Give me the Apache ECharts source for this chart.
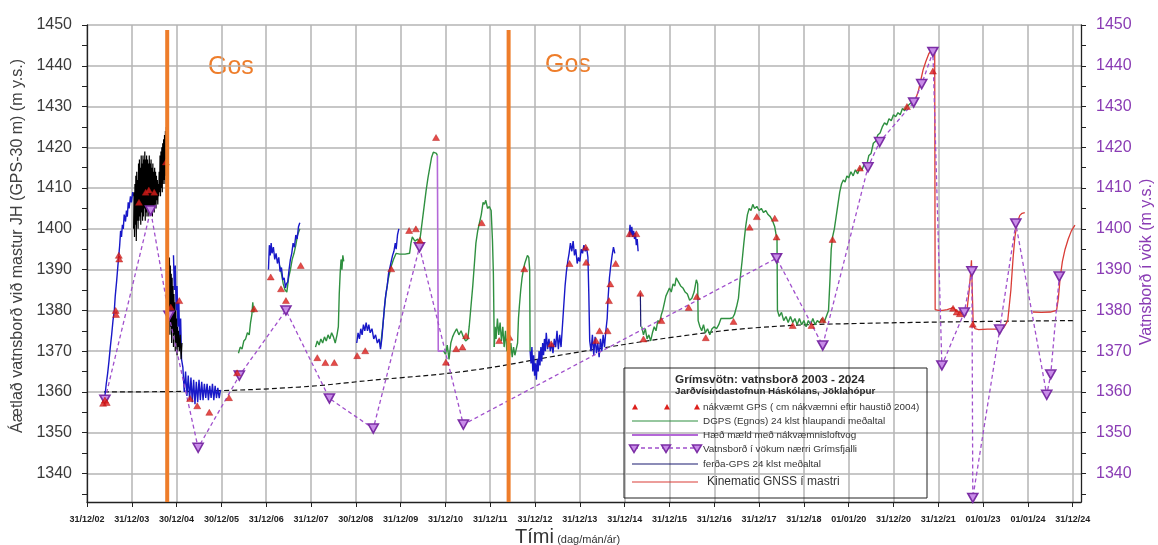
<!DOCTYPE html>
<html>
<head>
<meta charset="utf-8">
<script src="https://cdn.jsdelivr.net/npm/echarts@6/dist/echarts.min.js"></script>
<style>
  html, body { margin: 0; padding: 0; background: #ffffff; }
  #chart { width: 1158px; height: 545px; }
</style>
</head>
<body>
<div id="chart"></div>
<script>
// Grímsvötn lake level 2003-2024. X values are decimal years, Y values metres a.s.l.

const yearTickPositions = [2003, 2004, 2005, 2006, 2007, 2008, 2009, 2010, 2011, 2012, 2013, 2014,
  2015, 2016, 2017, 2018, 2019, 2020, 2021, 2022, 2023, 2024, 2025];
const yearTickLabels = ['31/12/02', '31/12/03', '30/12/04', '30/12/05', '31/12/06', '31/12/07', '30/12/08',
  '31/12/09', '31/12/10', '31/12/11', '31/12/12', '31/12/13', '31/12/14', '31/12/15', '31/12/16',
  '31/12/17', '31/12/18', '01/01/20', '31/12/20', '31/12/21', '01/01/23', '01/01/24', '31/12/24'];
const levelTicksMajor = [1340, 1350, 1360, 1370, 1380, 1390, 1400, 1410, 1420, 1430, 1440, 1450];
const levelTicksMinor = [1335, 1345, 1355, 1365, 1375, 1385, 1395, 1405, 1415, 1425, 1435, 1445];

// Eruptions ("Gos")
const eruptionYears = [2004.79, 2012.41];

// Precise GPS (cm accuracy after autumn 2004)
const preciseGps = [
  [2003.36, 1357.2], [2003.40, 1358.0], [2003.44, 1357.4], [2003.64, 1380.0], [2003.65, 1379.0],
  [2003.71, 1393.5], [2003.72, 1392.6], [2004.16, 1406.5], [2004.31, 1409.0], [2004.38, 1409.5],
  [2004.50, 1409.0], [2004.76, 1416.4], [2004.87, 1380.8], [2005.06, 1382.4],
  [2005.30, 1358.4], [2005.46, 1356.6], [2005.73, 1355.0], [2006.17, 1358.6], [2006.35, 1364.7],
  [2006.73, 1380.4], [2007.10, 1388.2], [2007.33, 1385.3], [2007.44, 1382.4], [2007.77, 1391.0],
  [2008.14, 1368.4], [2008.32, 1367.2], [2008.52, 1367.2], [2009.03, 1368.9], [2009.21, 1370.1],
  [2009.79, 1390.2], [2010.19, 1399.6], [2010.34, 1400.0], [2010.43, 1397.2], [2010.79, 1422.4],
  [2011.01, 1367.3], [2011.24, 1370.6], [2011.38, 1371.0], [2011.46, 1373.8], [2011.81, 1401.5],
  [2012.20, 1372.6], [2012.43, 1373.4], [2012.76, 1390.2], [2013.36, 1371.8], [2013.77, 1391.5],
  [2014.13, 1395.5], [2014.14, 1391.8], [2014.36, 1372.6], [2014.44, 1375.0], [2014.62, 1375.0],
  [2014.65, 1382.4], [2014.68, 1386.5], [2014.80, 1391.5], [2015.11, 1398.8], [2015.26, 1398.8],
  [2015.35, 1384.2], [2015.42, 1373.0], [2015.82, 1377.5], [2016.43, 1380.7], [2016.61, 1383.4],
  [2016.81, 1373.3], [2017.43, 1377.3], [2017.79, 1400.4], [2017.95, 1403.0], [2018.35, 1402.6],
  [2018.39, 1398.0], [2018.75, 1376.3], [2019.17, 1376.3], [2019.42, 1377.7], [2019.64, 1397.4],
  [2020.25, 1414.9], [2021.30, 1430.0], [2021.88, 1438.7], [2022.33, 1380.5], [2022.41, 1379.6],
  [2022.48, 1379.2], [2022.77, 1376.6]
];

// DGPS (Egnos) 24 h running mean, one array per logging period
const dgps2006 = [
  [2006.38, 1369.5], [2006.42, 1371.0], [2006.46, 1370.5], [2006.50, 1372.5], [2006.54, 1373.0],
  [2006.58, 1374.5], [2006.62, 1374.0], [2006.65, 1377.0], [2006.68, 1379.0], [2006.70, 1382.0],
  [2006.72, 1379.5], [2006.74, 1380.5]
];
const dgps2007 = [
  [2007.30, 1391.0], [2007.34, 1389.0], [2007.38, 1386.5], [2007.42, 1385.0], [2007.46, 1384.5],
  [2007.50, 1388.0], [2007.54, 1390.0], [2007.58, 1392.5], [2007.62, 1394.0], [2007.66, 1396.0],
  [2007.70, 1398.5], [2007.75, 1400.0]
];
const dgps2008 = [
  [2008.10, 1371.0], [2008.14, 1372.5], [2008.18, 1371.5], [2008.22, 1373.0], [2008.26, 1372.0],
  [2008.30, 1373.5], [2008.34, 1372.5], [2008.38, 1374.0], [2008.42, 1373.0], [2008.46, 1374.5],
  [2008.50, 1373.5], [2008.54, 1372.0], [2008.58, 1374.0], [2008.61, 1376.0], [2008.63, 1384.0],
  [2008.65, 1389.0], [2008.67, 1392.5], [2008.69, 1390.0], [2008.71, 1393.5], [2008.73, 1392.0]
];
const dgps2009 = [
  [2009.55, 1371.0], [2009.60, 1376.0], [2009.66, 1383.0], [2009.72, 1387.5], [2009.78, 1390.5],
  [2009.84, 1392.5], [2009.90, 1394.0], [2009.98, 1393.8], [2010.10, 1393.8], [2010.20, 1394.0],
  [2010.23, 1396.5], [2010.26, 1398.0], [2010.32, 1397.0], [2010.38, 1397.5], [2010.42, 1396.5],
  [2010.45, 1399.0], [2010.49, 1402.5], [2010.53, 1406.0], [2010.57, 1409.5], [2010.61, 1412.5],
  [2010.65, 1415.0], [2010.69, 1417.5], [2010.73, 1418.8], [2010.77, 1419.2], [2010.80, 1418.5],
  [2010.82, 1418.0]
];
const dgps2011 = [
  [2010.96, 1370.0], [2011.00, 1369.3], [2011.04, 1371.5], [2011.08, 1368.0], [2011.12, 1372.0],
  [2011.16, 1373.5], [2011.20, 1374.5], [2011.25, 1375.5], [2011.30, 1374.0], [2011.35, 1375.0],
  [2011.40, 1373.5], [2011.45, 1372.5], [2011.50, 1373.0], [2011.53, 1376.0], [2011.57, 1381.0],
  [2011.61, 1386.0], [2011.65, 1392.0], [2011.68, 1396.5], [2011.72, 1399.5], [2011.76, 1401.5],
  [2011.80, 1403.5], [2011.84, 1406.5], [2011.87, 1406.0], [2011.90, 1407.0], [2011.94, 1405.0],
  [2011.98, 1405.5], [2012.02, 1404.5], [2012.05, 1397.0], [2012.07, 1389.0], [2012.09, 1371.0]
];
const dgps2012 = [
  [2012.09, 1371.0], [2012.11, 1376.0], [2012.13, 1373.0], [2012.16, 1378.0], [2012.19, 1374.0],
  [2012.22, 1377.0], [2012.25, 1372.5], [2012.28, 1376.0], [2012.31, 1371.0], [2012.34, 1375.0],
  [2012.37, 1370.0], [2012.40, 1374.0], [2012.43, 1369.0], [2012.46, 1372.0], [2012.49, 1368.5],
  [2012.52, 1371.0], [2012.55, 1369.0], [2012.58, 1370.5], [2012.61, 1372.0], [2012.63, 1378.0],
  [2012.65, 1381.0], [2012.68, 1385.0], [2012.71, 1388.0], [2012.74, 1390.0], [2012.77, 1391.5],
  [2012.80, 1392.5], [2012.83, 1393.5], [2012.86, 1393.0], [2012.88, 1390.0], [2012.89, 1370.0]
];
const dgps2015 = [
  [2015.38, 1376.0], [2015.42, 1374.0], [2015.46, 1375.5], [2015.50, 1373.0], [2015.54, 1374.0],
  [2015.58, 1372.5], [2015.62, 1374.5], [2015.66, 1376.0], [2015.70, 1375.0], [2015.74, 1377.5],
  [2015.78, 1377.0], [2015.82, 1379.0], [2015.85, 1380.0], [2015.92, 1383.5], [2016.00, 1385.5],
  [2016.04, 1384.5], [2016.08, 1386.5], [2016.12, 1386.0], [2016.15, 1388.0], [2016.20, 1387.0],
  [2016.25, 1386.0], [2016.30, 1385.5], [2016.35, 1384.5], [2016.40, 1384.0], [2016.45, 1382.5],
  [2016.50, 1383.0], [2016.55, 1384.5], [2016.60, 1387.5], [2016.63, 1386.5], [2016.64, 1377.5],
  [2016.68, 1376.0], [2016.72, 1375.0], [2016.76, 1376.5], [2016.80, 1374.5], [2016.85, 1375.5],
  [2016.90, 1374.0], [2016.95, 1375.5], [2017.00, 1376.0], [2017.05, 1375.5], [2017.10, 1376.5],
  [2017.15, 1378.0], [2017.25, 1378.0], [2017.35, 1378.0], [2017.41, 1378.2], [2017.45, 1379.0],
  [2017.50, 1381.0], [2017.54, 1383.0], [2017.58, 1388.0], [2017.62, 1392.0], [2017.66, 1396.5],
  [2017.70, 1400.5], [2017.74, 1403.5], [2017.78, 1405.0], [2017.82, 1404.5], [2017.86, 1406.0],
  [2017.90, 1405.0], [2017.95, 1405.5], [2018.00, 1404.5], [2018.05, 1405.0], [2018.10, 1404.0],
  [2018.15, 1404.5], [2018.20, 1403.5], [2018.25, 1403.0], [2018.30, 1402.0], [2018.35, 1400.5],
  [2018.38, 1398.5], [2018.40, 1398.0], [2018.41, 1380.0], [2018.45, 1378.5], [2018.50, 1379.5],
  [2018.55, 1377.5], [2018.60, 1378.5], [2018.65, 1377.0], [2018.70, 1378.5], [2018.75, 1377.0],
  [2018.80, 1378.0], [2018.85, 1376.5], [2018.90, 1378.0], [2018.95, 1376.5], [2019.00, 1377.5],
  [2019.05, 1376.0], [2019.10, 1377.5], [2019.15, 1376.5], [2019.20, 1378.0], [2019.25, 1376.5],
  [2019.30, 1377.5], [2019.35, 1377.0], [2019.40, 1378.0], [2019.45, 1377.0], [2019.50, 1378.5],
  [2019.55, 1380.0], [2019.58, 1387.0], [2019.61, 1395.0], [2019.64, 1398.0], [2019.68, 1400.0],
  [2019.72, 1403.0], [2019.76, 1406.0], [2019.80, 1409.0], [2019.84, 1411.0], [2019.88, 1412.0],
  [2019.92, 1411.5], [2019.96, 1413.0], [2020.00, 1412.5], [2020.05, 1414.0], [2020.10, 1413.0],
  [2020.15, 1414.5], [2020.20, 1413.5], [2020.25, 1415.0], [2020.30, 1414.5], [2020.35, 1416.0],
  [2020.40, 1415.5], [2020.45, 1418.0], [2020.50, 1418.5], [2020.55, 1421.0], [2020.60, 1421.5],
  [2020.65, 1423.0], [2020.70, 1423.5], [2020.75, 1425.0], [2020.80, 1426.0], [2020.85, 1425.5],
  [2020.90, 1427.0], [2020.95, 1426.5], [2021.00, 1428.0], [2021.05, 1427.5], [2021.10, 1428.5],
  [2021.15, 1428.0], [2021.20, 1429.5], [2021.25, 1429.0], [2021.30, 1430.0], [2021.35, 1430.5],
  [2021.40, 1431.0], [2021.45, 1431.5], [2021.50, 1432.0]
];

// Barometric altimeter level
const baroLevel = [[2010.82, 1418.0], [2010.84, 1370.0], [2010.96, 1370.0]];

// Travel GPS, 24 h mean
const travelGps2003 = [
  [2003.36, 1357.5], [2003.40, 1359.0], [2003.43, 1362.0], [2003.46, 1364.5], [2003.49, 1367.5],
  [2003.52, 1371.0], [2003.55, 1374.0], [2003.58, 1377.5], [2003.61, 1380.0], [2003.63, 1383.5],
  [2003.66, 1387.0], [2003.69, 1391.0], [2003.71, 1393.5], [2003.73, 1396.0], [2003.75, 1399.5],
  [2003.77, 1398.0], [2003.79, 1401.0], [2003.81, 1400.0], [2003.83, 1403.5], [2003.86, 1401.8],
  [2003.88, 1404.5], [2003.90, 1403.0], [2003.92, 1406.5], [2003.94, 1405.0], [2003.97, 1408.0],
  [2003.99, 1406.5], [2004.02, 1409.0], [2004.05, 1408.0]
];
const travelGps2005 = [
  [2004.93, 1393.5], [2004.95, 1385.0], [2004.97, 1391.0], [2004.99, 1380.0], [2005.01, 1386.0],
  [2005.03, 1376.0], [2005.05, 1382.0], [2005.07, 1372.0], [2005.09, 1378.0], [2005.11, 1368.0],
  [2005.14, 1366.0], [2005.17, 1360.0], [2005.20, 1365.0], [2005.23, 1359.0], [2005.26, 1364.0],
  [2005.29, 1358.0], [2005.32, 1363.5], [2005.35, 1357.5], [2005.38, 1363.0], [2005.41, 1357.0],
  [2005.44, 1362.5], [2005.47, 1357.5], [2005.50, 1363.0], [2005.53, 1358.0], [2005.56, 1362.5],
  [2005.59, 1358.0], [2005.62, 1362.0], [2005.65, 1358.5], [2005.68, 1362.0], [2005.71, 1358.0],
  [2005.74, 1361.5], [2005.77, 1358.5], [2005.80, 1362.0], [2005.83, 1358.0], [2005.86, 1361.5],
  [2005.89, 1358.5], [2005.92, 1361.0], [2005.95, 1358.5], [2005.98, 1360.5]
];
const travelGps2007 = [
  [2007.05, 1390.0], [2007.07, 1396.0], [2007.09, 1393.5], [2007.11, 1396.5], [2007.13, 1394.0],
  [2007.16, 1395.5], [2007.19, 1392.5], [2007.22, 1394.0], [2007.25, 1391.5], [2007.28, 1393.0],
  [2007.31, 1389.5], [2007.34, 1390.5], [2007.37, 1387.5], [2007.40, 1388.0], [2007.43, 1385.5],
  [2007.45, 1386.5], [2007.48, 1387.0], [2007.51, 1390.0], [2007.54, 1392.5], [2007.57, 1394.0],
  [2007.60, 1396.5], [2007.63, 1395.5], [2007.66, 1398.5], [2007.69, 1397.5], [2007.72, 1400.5],
  [2007.75, 1401.5]
];
const travelGps2009 = [
  [2009.02, 1372.0], [2009.05, 1374.5], [2009.08, 1373.0], [2009.11, 1375.5], [2009.14, 1374.0],
  [2009.17, 1376.5], [2009.20, 1375.0], [2009.23, 1377.0], [2009.26, 1375.0], [2009.29, 1376.5],
  [2009.32, 1374.5], [2009.36, 1375.5], [2009.40, 1373.0], [2009.44, 1374.0], [2009.48, 1372.0],
  [2009.52, 1373.0], [2009.55, 1370.5], [2009.58, 1373.0], [2009.61, 1377.0], [2009.64, 1381.0],
  [2009.67, 1384.0], [2009.70, 1386.0], [2009.73, 1389.0], [2009.76, 1390.5], [2009.79, 1392.0],
  [2009.82, 1393.5], [2009.85, 1394.5], [2009.88, 1396.5], [2009.90, 1395.0], [2009.93, 1398.5],
  [2009.96, 1400.0]
];
const travelGps2013 = [
  [2012.89, 1370.0], [2012.91, 1367.0], [2012.93, 1371.0], [2012.95, 1365.0], [2012.97, 1369.0],
  [2012.99, 1364.0], [2013.01, 1367.0], [2013.03, 1363.0], [2013.05, 1368.0], [2013.07, 1365.0],
  [2013.09, 1370.0], [2013.11, 1366.5], [2013.13, 1371.0], [2013.15, 1367.5], [2013.17, 1372.0],
  [2013.19, 1369.0], [2013.21, 1373.0], [2013.23, 1370.0], [2013.25, 1374.5], [2013.28, 1370.5],
  [2013.31, 1373.0], [2013.34, 1370.0], [2013.37, 1372.0], [2013.40, 1369.5], [2013.43, 1373.0],
  [2013.46, 1371.0], [2013.49, 1375.0], [2013.52, 1370.5], [2013.55, 1374.0], [2013.58, 1371.0],
  [2013.61, 1376.0], [2013.64, 1381.0], [2013.67, 1386.0], [2013.70, 1389.5], [2013.73, 1392.0],
  [2013.76, 1394.0], [2013.79, 1396.5], [2013.82, 1394.5], [2013.85, 1397.0], [2013.88, 1393.5],
  [2013.91, 1395.0], [2013.94, 1391.5], [2013.97, 1393.0], [2014.00, 1392.0], [2014.03, 1395.0],
  [2014.06, 1394.0], [2014.09, 1396.0], [2014.12, 1394.5], [2014.15, 1395.5], [2014.18, 1393.0],
  [2014.20, 1384.0], [2014.22, 1372.5], [2014.25, 1370.0], [2014.28, 1374.0], [2014.31, 1369.0],
  [2014.34, 1373.5], [2014.37, 1369.5], [2014.40, 1372.0], [2014.43, 1368.5], [2014.46, 1373.0],
  [2014.49, 1370.0], [2014.52, 1374.0], [2014.55, 1371.0], [2014.58, 1375.0], [2014.61, 1378.0],
  [2014.63, 1383.0], [2014.66, 1388.0], [2014.69, 1391.0], [2014.72, 1393.5], [2014.75, 1395.5],
  [2014.78, 1394.0]
];
const travelGps2015 = [
  [2015.10, 1398.0], [2015.12, 1401.0], [2015.14, 1398.5], [2015.16, 1400.5], [2015.18, 1398.0],
  [2015.20, 1399.5], [2015.22, 1397.5], [2015.24, 1399.0], [2015.26, 1396.0], [2015.28, 1397.5],
  [2015.30, 1394.5]
];
const travelGps2015b = [[2015.35, 1384.2], [2015.36, 1376.0]];

// Raw GPS readings around the 2004 eruption
const rawGpsBefore = [
  [2004.04, 1400], [2004.05, 1409], [2004.06, 1398], [2004.07, 1411], [2004.08, 1401], [2004.09, 1413],
  [2004.10, 1397], [2004.11, 1414], [2004.12, 1402], [2004.13, 1412], [2004.14, 1400], [2004.15, 1416],
  [2004.16, 1402], [2004.17, 1417], [2004.18, 1403], [2004.19, 1415], [2004.20, 1401], [2004.21, 1418],
  [2004.22, 1404], [2004.23, 1416], [2004.24, 1402], [2004.25, 1418], [2004.26, 1403], [2004.27, 1417],
  [2004.28, 1405], [2004.29, 1419], [2004.30, 1402], [2004.31, 1417], [2004.32, 1404], [2004.33, 1418],
  [2004.34, 1403], [2004.35, 1417], [2004.36, 1405], [2004.37, 1416], [2004.38, 1403], [2004.39, 1418],
  [2004.40, 1404], [2004.41, 1416], [2004.42, 1405], [2004.43, 1417], [2004.44, 1404], [2004.45, 1415],
  [2004.46, 1403], [2004.47, 1416], [2004.48, 1405], [2004.49, 1414], [2004.50, 1404], [2004.51, 1415],
  [2004.52, 1406], [2004.53, 1414], [2004.54, 1405], [2004.55, 1413], [2004.56, 1407], [2004.57, 1412],
  [2004.58, 1406], [2004.59, 1411], [2004.60, 1408], [2004.61, 1414], [2004.62, 1409], [2004.63, 1418],
  [2004.64, 1408], [2004.65, 1419], [2004.66, 1410], [2004.67, 1420], [2004.68, 1409], [2004.69, 1421],
  [2004.70, 1411], [2004.71, 1422], [2004.72, 1412], [2004.73, 1423], [2004.74, 1411], [2004.75, 1424],
  [2004.76, 1413], [2004.77, 1425], [2004.78, 1414], [2004.79, 1426], [2004.80, 1416]
];
const rawGpsAfter = [
  [2004.83, 1380], [2004.84, 1393], [2004.85, 1374], [2004.86, 1391], [2004.87, 1376], [2004.88, 1389],
  [2004.89, 1372], [2004.90, 1388], [2004.91, 1375], [2004.92, 1386], [2004.93, 1371], [2004.94, 1384],
  [2004.95, 1374], [2004.96, 1382], [2004.97, 1370], [2004.98, 1380], [2004.99, 1372], [2005.00, 1378],
  [2005.01, 1369], [2005.02, 1376], [2005.03, 1371], [2005.04, 1375], [2005.06, 1370], [2005.08, 1374],
  [2005.10, 1368], [2005.12, 1372]
];

// Water level in openings near Grímsfjall
const openingLevels = [
  [2003.40, 1358.1], [2004.42, 1404.5], [2004.83, 1378.7], [2005.48, 1346.3], [2006.40, 1364.0],
  [2007.44, 1380.0], [2008.41, 1358.4], [2009.39, 1351.0], [2010.42, 1395.5], [2011.40, 1352.0],
  [2018.39, 1392.8], [2019.42, 1371.4], [2020.43, 1415.1], [2020.69, 1421.3], [2021.45, 1431.0],
  [2021.63, 1435.5], [2021.88, 1443.4], [2022.08, 1366.5], [2022.58, 1379.5], [2022.75, 1389.6],
  [2022.77, 1334.0], [2023.37, 1375.3], [2023.73, 1401.3], [2024.42, 1359.3], [2024.51, 1364.3],
  [2024.70, 1388.3]
];

// Kinematic GNSS on the mast
const gnssMast1 = [
  [2021.50, 1432.0], [2021.56, 1434.0], [2021.62, 1437.0], [2021.66, 1439.0], [2021.72, 1441.0],
  [2021.79, 1443.0], [2021.86, 1443.9], [2021.92, 1443.4], [2021.93, 1380.2], [2022.00, 1380.0],
  [2022.10, 1380.0], [2022.20, 1380.2], [2022.28, 1380.5], [2022.33, 1380.7], [2022.40, 1379.8],
  [2022.48, 1379.5], [2022.56, 1379.0], [2022.61, 1378.7], [2022.65, 1381.0], [2022.69, 1385.0],
  [2022.72, 1389.0], [2022.74, 1392.3], [2022.77, 1392.0], [2022.78, 1376.3], [2022.82, 1375.5],
  [2022.90, 1375.3], [2023.10, 1375.4], [2023.30, 1375.4], [2023.45, 1375.6], [2023.50, 1376.5],
  [2023.55, 1377.5], [2023.62, 1385.0], [2023.67, 1393.0], [2023.71, 1398.0], [2023.76, 1401.5],
  [2023.82, 1403.3], [2023.87, 1403.8], [2023.93, 1404.0]
];
const gnssMast2 = [
  [2024.11, 1379.6], [2024.30, 1379.5], [2024.50, 1379.6], [2024.64, 1380.0], [2024.68, 1383.0],
  [2024.72, 1388.0], [2024.77, 1392.0], [2024.83, 1395.0], [2024.90, 1397.5], [2024.97, 1399.5],
  [2025.05, 1400.9]
];

// Long-term trend of the base level
const baseTrend = [
  [2003.38, 1360.0], [2005.50, 1360.2], [2007.74, 1361.2], [2009.30, 1362.8], [2011.53, 1365.2],
  [2013.77, 1369.4], [2016.00, 1373.3], [2018.00, 1375.8], [2020.25, 1376.8], [2025.05, 1377.5]
];

const Y_MIN = 1333, Y_MAX = 1450, X_MIN = 2003, X_MAX = 2025.185;
const FONT = '"Liberation Sans", Arial, Helvetica, sans-serif';
const GREEN = '#2f9040', BLUE = '#1818c8', VIOLET = '#b468d8', PURPLE = '#a04fcc',
  RED = '#d93c36', TRI_RED = '#dd1f1b', ORANGE = '#ee7d2a', AXIS = '#222222', GRID = '#b5b5b5';

function lineSeries(data, color, width, z, extra) {
  return Object.assign({
    type: 'line', data: data, showSymbol: false, symbol: 'none', z: z,
    lineStyle: { color: color, width: width }, silent: true
  }, extra || {});
}

const series = [];
series.push(lineSeries(baseTrend, '#111111', 1.2, 2, { smooth: 0.4, lineStyle: { color: '#111', width: 1.2, type: [5, 3] } }));
series.push(lineSeries(baroLevel, VIOLET, 1.6, 3));
[dgps2006, dgps2007, dgps2008, dgps2009, dgps2011, dgps2012, dgps2015].forEach(d => series.push(lineSeries(d, GREEN, 1.4, 4)));
[travelGps2003, travelGps2005, travelGps2007, travelGps2009, travelGps2013, travelGps2015].forEach(d => series.push(lineSeries(d, BLUE, 1.4, 5)));
series.push(lineSeries(travelGps2015b, '#1a1a70', 1.2, 5));
series.push(lineSeries(rawGpsBefore, '#000000', 1.2, 6));
series.push(lineSeries(rawGpsAfter, '#000000', 1.2, 6));
series.push(lineSeries(gnssMast1, RED, 1.3, 7));
series.push(lineSeries(gnssMast2, RED, 1.3, 7));
series.push({
  type: 'line', data: openingLevels, z: 8, silent: true,
  symbol: 'triangle', symbolRotate: 180, symbolSize: [10, 9], showSymbol: true,
  lineStyle: { color: PURPLE, width: 1.3, type: [4, 3] },
  itemStyle: { color: '#c88ce8', borderColor: '#7c2ea6', borderWidth: 1.6 }
});
series.push({
  type: 'scatter', data: preciseGps, z: 9, silent: true,
  symbol: 'triangle', symbolSize: [7, 6],
  itemStyle: { color: TRI_RED, borderColor: '#b01010', borderWidth: 0.5 }
});
eruptionYears.forEach(yr => series.push(lineSeries([[yr, 1448.8], [yr, Y_MIN]], ORANGE, 4, 10)));

const plainNumber = v => String(Math.round(v));

function yAxisBase(position, extra) {
  return Object.assign({
    type: 'value', position: position, min: Y_MIN, max: Y_MAX,
    axisLine: { show: true, lineStyle: { color: AXIS, width: 1.3 } },
    axisTick: { show: true, inside: false, length: 5, customValues: levelTicksMajor, lineStyle: { color: AXIS, width: 1 } },
    axisLabel: { show: false },
    splitLine: { show: false }
  }, extra);
}

const option = {
  animation: false,
  backgroundColor: '#ffffff',
  grid: { left: 87, right: 77, top: 25, bottom: 43, containLabel: false },
  xAxis: {
    type: 'value', min: X_MIN, max: X_MAX,
    axisLine: { show: true, onZero: false, lineStyle: { color: AXIS, width: 1.3 } },
    axisTick: { show: true, length: 5, customValues: yearTickPositions, lineStyle: { color: AXIS, width: 1 } },
    axisLabel: {
      customValues: yearTickPositions,
      formatter: v => yearTickLabels[Math.round(v - 2003)],
      fontFamily: FONT, fontSize: 9, fontWeight: 'bold', color: '#222', margin: 13
    },
    splitLine: { show: true, lineStyle: { color: GRID, width: 1.5 } }
  },
  yAxis: [
    yAxisBase('left', {
      axisLabel: { show: true, customValues: levelTicksMajor, formatter: plainNumber, fontFamily: FONT, fontSize: 16, color: '#3a3a3a', margin: 15 },
      splitLine: { show: true, lineStyle: { color: GRID, width: 1.5 } }
    }),
    yAxisBase('left', { axisLine: { show: false }, axisTick: { show: true, length: 5, customValues: levelTicksMinor, lineStyle: { color: AXIS } } }),
    yAxisBase('right', {
      axisLabel: { show: true, customValues: levelTicksMajor, formatter: plainNumber, fontFamily: FONT, fontSize: 16, color: '#8a3cb4', margin: 15 }
    }),
    yAxisBase('right', { axisLine: { show: false }, axisTick: { show: true, length: 5, customValues: levelTicksMinor, lineStyle: { color: AXIS } } })
  ],
  series: series,
  graphic: []
};

// Axis titles and eruption captions
const g = [];
g.push({
  type: 'text', x: 18, y: 246, rotation: Math.PI / 2,
  style: { text: 'Áætlað vatnsborð við mastur JH (GPS-30 m) (m y.s.)', font: '16px ' + FONT, fill: '#404040', align: 'center', verticalAlign: 'middle' }
});
g.push({
  type: 'text', x: 1147, y: 262, rotation: Math.PI / 2,
  style: { text: 'Vatnsborð í vök (m y.s.)', font: '16px ' + FONT, fill: '#8a3cb4', align: 'center', verticalAlign: 'middle' }
});
g.push({
  type: 'text', x: 515, y: 537,
  style: {
    text: '{a|Tími} {b|(dag/mán/ár)}', align: 'left', verticalAlign: 'middle',
    rich: { a: { font: '20px ' + FONT, fill: '#333' }, b: { font: '11px ' + FONT, fill: '#333', padding: [6, 0, 0, 0] } }
  }
});
g.push({ type: 'text', x: 208, y: 67, style: { text: 'Gos', font: '25px ' + FONT, fill: ORANGE, align: 'left', verticalAlign: 'middle' } });
g.push({ type: 'text', x: 545, y: 65, style: { text: 'Gos', font: '25px ' + FONT, fill: ORANGE, align: 'left', verticalAlign: 'middle' } });

// Legend box
const LX = 624, LY = 368;
g.push({ type: 'rect', shape: { x: LX, y: LY, width: 303, height: 130 }, style: { fill: 'none', stroke: '#222', lineWidth: 1 }, z: 100 });
g.push({ type: 'text', x: 675, y: 380, z: 100, style: { text: 'Grímsvötn: vatnsborð 2003 - 2024', font: 'bold 11.8px ' + FONT, fill: '#2a2a2a', align: 'left', verticalAlign: 'middle' } });
g.push({ type: 'text', x: 675, y: 391, z: 100, style: { text: 'Jarðvísindastofnun Háskólans, Jöklahópur', font: 'bold 9.8px ' + FONT, fill: '#2a2a2a', align: 'left', verticalAlign: 'middle' } });
const legendRows = [
  { y: 407, x: 703, text: 'nákvæmt GPS ( cm nákvæmni eftir haustið 2004)', font: '9.9px ' },
  { y: 421, x: 703, text: 'DGPS (Egnos) 24 klst hlaupandi meðaltal', font: '9.9px ' },
  { y: 435, x: 703, text: 'Hæð mæld með nákvæmnisloftvog', font: '9.9px ' },
  { y: 449, x: 703, text: 'Vatnsborð í vökum nærri Grímsfjalli', font: '9.9px ' },
  { y: 464, x: 703, text: 'ferða-GPS 24 klst meðaltal', font: '9.9px ' },
  { y: 482, x: 707, text: 'Kinematic GNSS í mastri', font: '12px ' }
];
legendRows.forEach(r => g.push({ type: 'text', x: r.x, y: r.y, z: 100, style: { text: r.text, font: r.font + FONT, fill: '#333', align: 'left', verticalAlign: 'middle' } }));
[635, 667, 697].forEach(x => g.push({
  type: 'polygon', z: 100, shape: { points: [[x - 3, 409.5], [x + 3, 409.5], [x, 404]] }, style: { fill: TRI_RED }
}));
g.push({ type: 'line', z: 100, shape: { x1: 632, y1: 421, x2: 698, y2: 421 }, style: { stroke: GREEN, lineWidth: 1.2 } });
g.push({ type: 'line', z: 100, shape: { x1: 632, y1: 435, x2: 698, y2: 435 }, style: { stroke: VIOLET, lineWidth: 2 } });
g.push({ type: 'line', z: 100, shape: { x1: 634, y1: 448, x2: 697, y2: 448 }, style: { stroke: PURPLE, lineWidth: 1.3, lineDash: [4, 3] } });
[634, 666, 697].forEach(x => g.push({
  type: 'polygon', z: 101, shape: { points: [[x - 4.5, 445], [x + 4.5, 445], [x, 452.5]] }, style: { fill: '#c88ce8', stroke: '#7c2ea6', lineWidth: 1.5 }
}));
g.push({ type: 'line', z: 100, shape: { x1: 632, y1: 464, x2: 698, y2: 464 }, style: { stroke: '#1a1a70', lineWidth: 1.2 } });
g.push({ type: 'line', z: 100, shape: { x1: 632, y1: 482, x2: 698, y2: 482 }, style: { stroke: RED, lineWidth: 1.2 } });
option.graphic = g;

const chart = echarts.init(document.getElementById('chart'), null, { renderer: 'canvas' });
chart.setOption(option);
</script>
</body>
</html>
